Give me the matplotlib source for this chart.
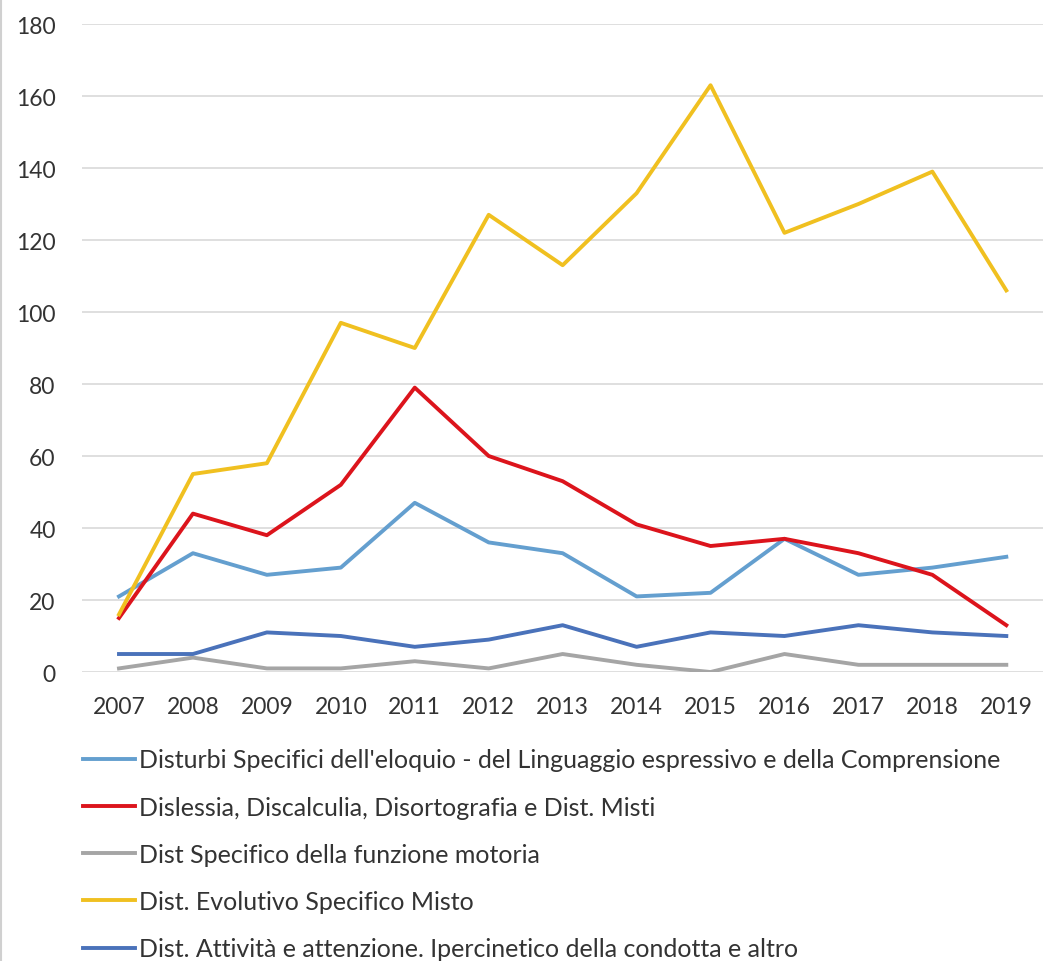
import matplotlib
matplotlib.use("Agg")
import matplotlib.pyplot as plt

plt.rcParams['font.family'] = ['Lato', 'DejaVu Sans']

years = [2007, 2008, 2009, 2010, 2011, 2012, 2013, 2014, 2015, 2016, 2017, 2018, 2019]

eloquio = [21, 33, 27, 29, 47, 36, 33, 21, 22, 37, 27, 29, 32]
dislessia = [15, 44, 38, 52, 79, 60, 53, 41, 35, 37, 33, 27, 13]
motoria = [1, 4, 1, 1, 3, 1, 5, 2, 0, 5, 2, 2, 2]
misto = [16, 55, 58, 97, 90, 127, 113, 133, 163, 122, 130, 139, 106]
attivita = [5, 5, 11, 10, 7, 9, 13, 7, 11, 10, 13, 11, 10]

labels = [
    "Disturbi Specifici dell'eloquio - del Linguaggio espressivo e della Comprensione",
    "Dislessia, Discalculia, Disortografia e Dist. Misti",
    "Dist Specifico della funzione motoria",
    "Dist. Evolutivo Specifico Misto",
    "Dist. Attività e attenzione. Ipercinetico della condotta e altro",
]
colors = ['#649FCF', '#DC141C', '#A5A5A5', '#F0C020', '#4A72BA']
series = [eloquio, dislessia, motoria, misto, attivita]

fig = plt.figure(figsize=(10.61, 9.62), dpi=100)
ax = fig.add_axes([0.0773, 0.3004, 0.906, 0.6736])

for vals, lab, col in zip(series, labels, colors):
    ax.plot(years, vals, color=col, linewidth=2.8, label=lab)

ax.set_ylim(0, 180)
ax.set_yticks(range(0, 181, 20))
ax.set_xlim(2006.5, 2019.5)
ax.set_xticks(years)
ax.grid(axis='y', color='#D9D9D9', linewidth=1.2)
ax.set_axisbelow(True)
for s in ax.spines.values():
    s.set_visible(False)
ax.tick_params(length=0, labelsize=16.5, colors='#333333')
ax.tick_params(axis='y', pad=19)
ax.tick_params(axis='x', pad=17)

fig.legend(loc='upper left', bbox_to_anchor=(0.078, 0.221), frameon=False,
           fontsize=18, handlelength=2.1, handletextpad=0.16, labelspacing=0.97,
           borderpad=0, borderaxespad=0, labelcolor='#333333')

# thin frame line on the left edge, as in the original screenshot
fig.add_artist(plt.Line2D([0.001, 0.001], [0, 1], color='#D0D0D0', linewidth=1.5))

fig.savefig('out.png', dpi=100, facecolor='white')
